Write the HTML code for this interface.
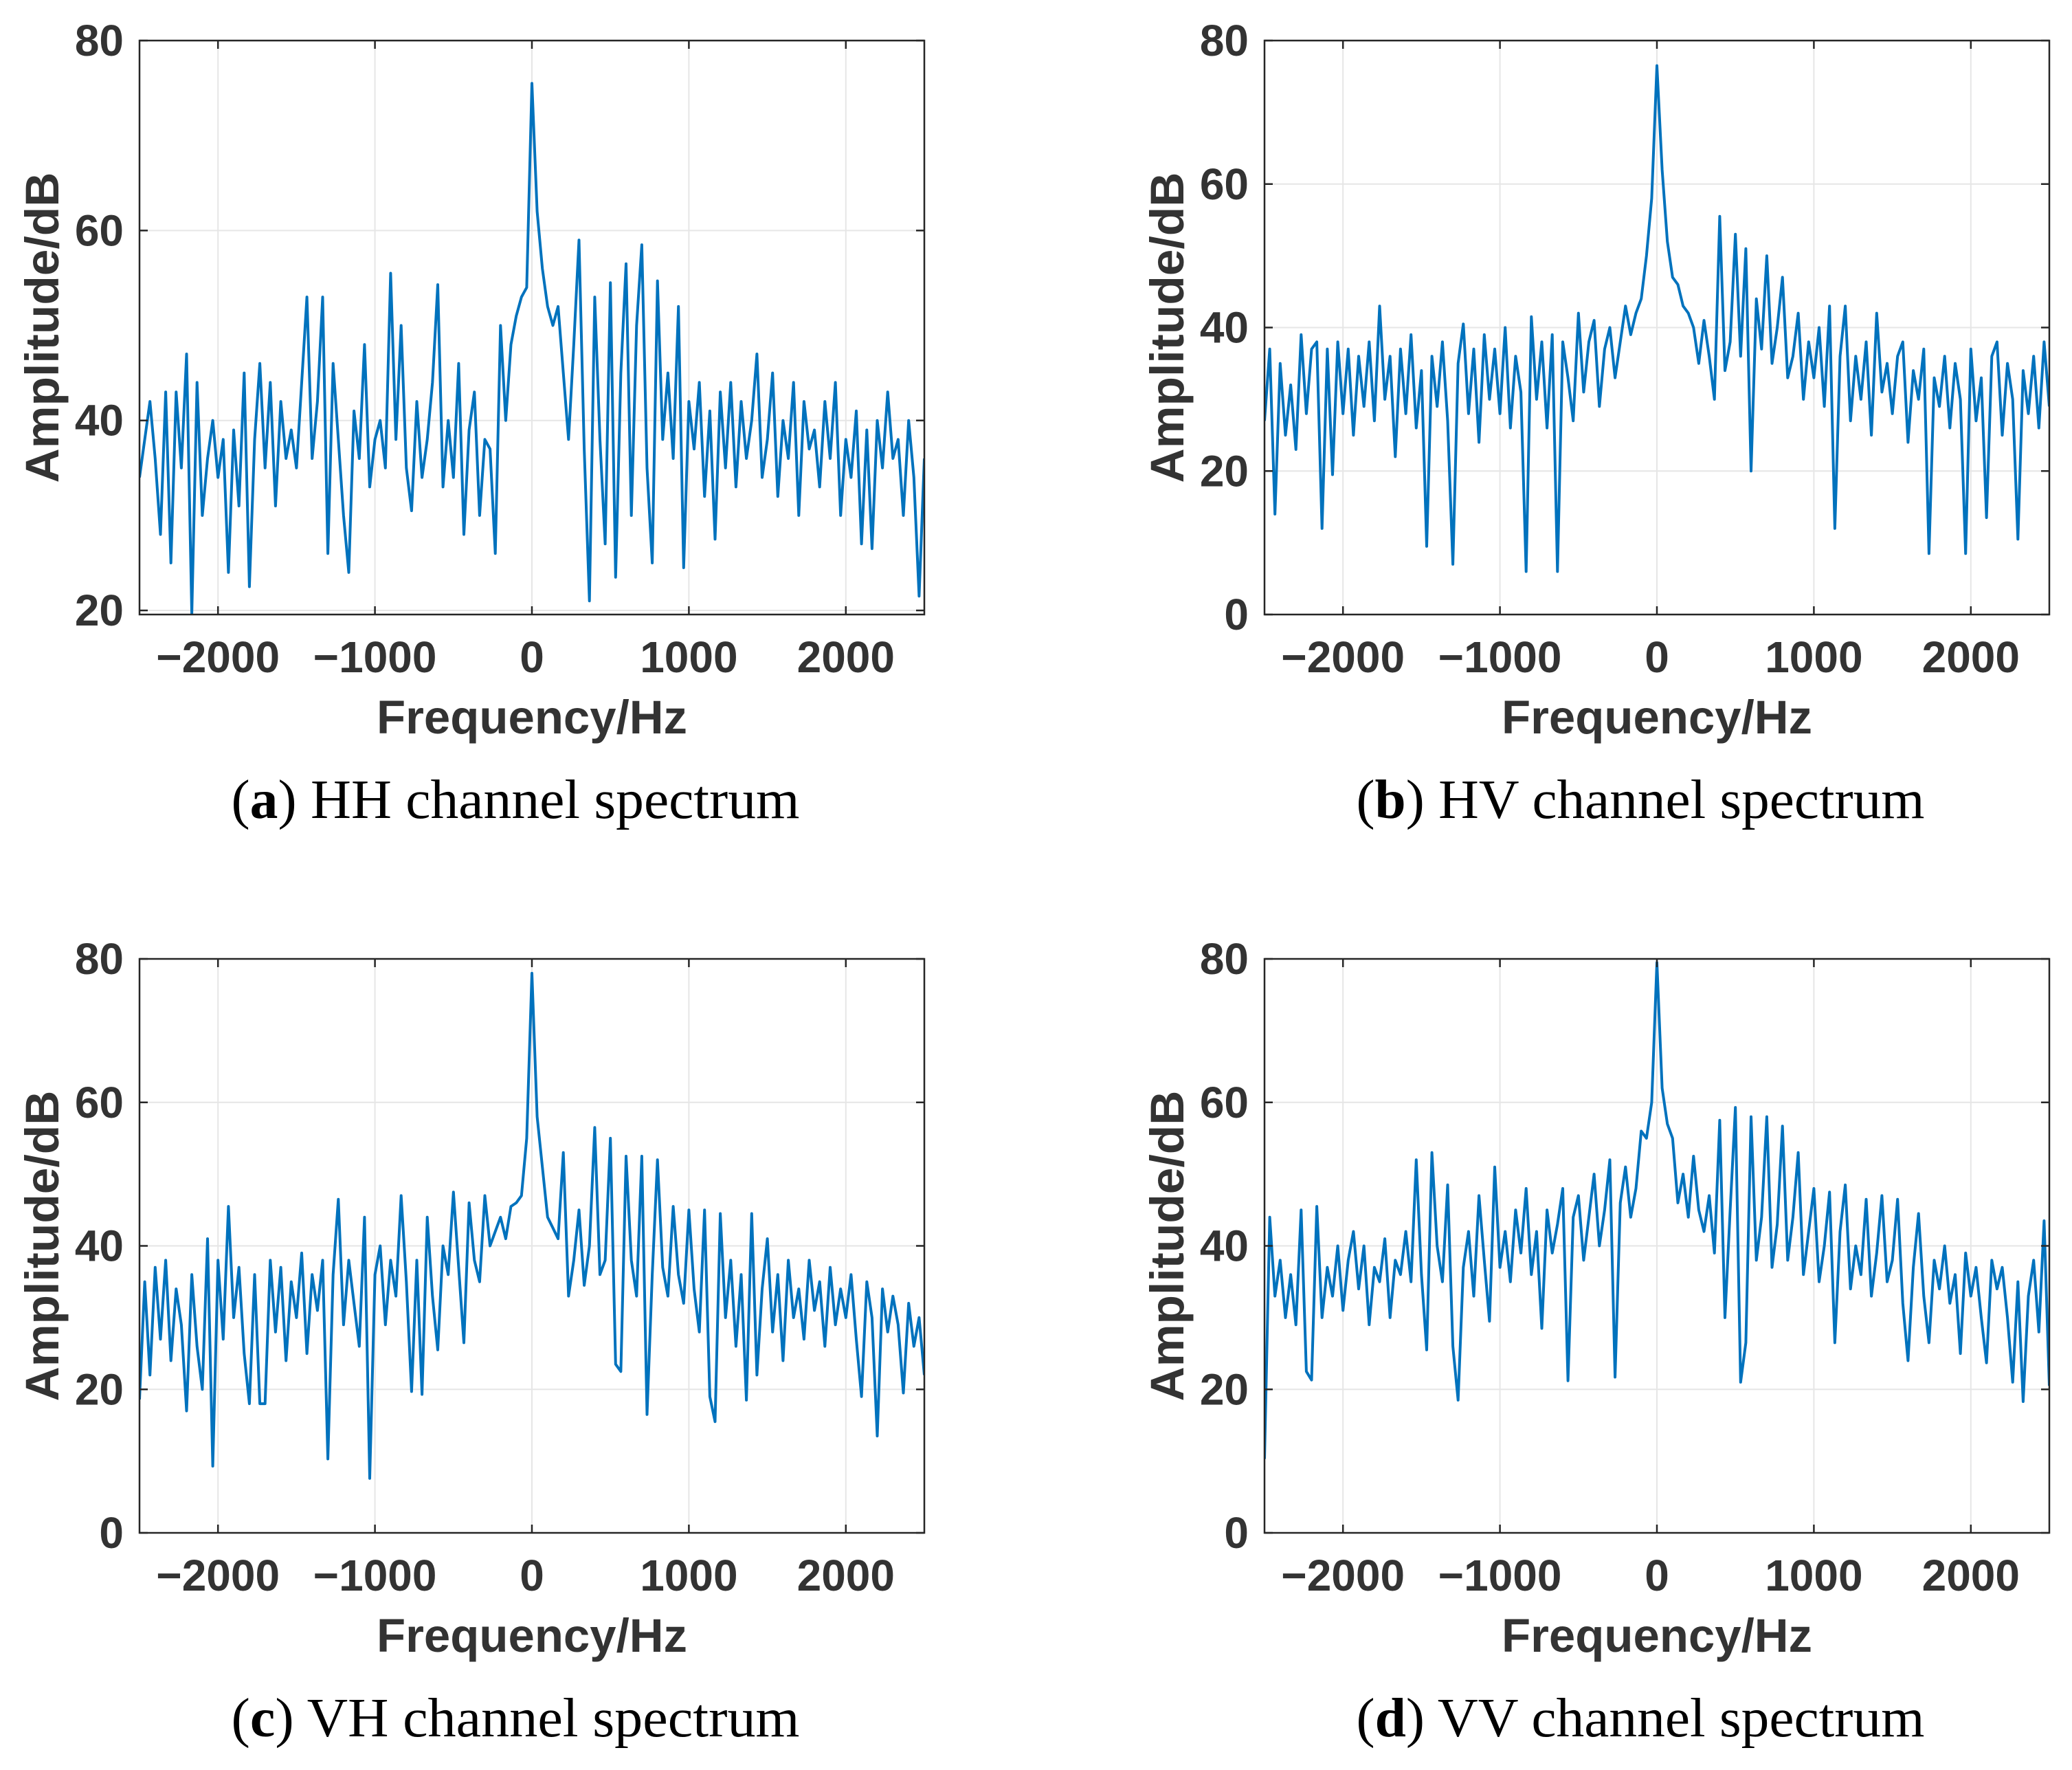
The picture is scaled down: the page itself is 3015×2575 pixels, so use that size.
<!DOCTYPE html>
<html>
<head>
<meta charset="utf-8">
<style>
  html,body{margin:0;padding:0;background:#fff;}
  svg{display:block;}
</style>
</head>
<body>
<svg id="fig" xmlns="http://www.w3.org/2000/svg" width="3015" height="2575" viewBox="0 0 3015 2575">
  <rect x="0" y="0" width="3015" height="2575" fill="#ffffff"/>
</svg>
<script>
// Shared frequency axis: 151 samples from -2500 Hz to 2500 Hz
const freqStart = -2500;
const freqEnd = 2500;
const sampleCount = 151;
const xTicks = [-2000, -1000, 0, 1000, 2000];
const xTickLabels = ["\u22122000", "\u22121000", "0", "1000", "2000"];

const hhValues = [34,38,42,36,28,43,25,43,35,47,
19.6,44,30,36,40,34,38,24,39,31,
45,22.5,38,46,35,44,31,42,36,39,
35,44,53,36,42,53,26,46,38,30,
24,41,36,48,33,38,40,35,55.5,38,
50,35,30.5,42,34,38,44,54.3,33,40,
34,46,28,39,43,30,38,37,26,50,
40,48,51,53,54,75.5,62,56,52,50,
52,45,38,48,59,37,21,53,38,27,
54.5,23.5,45,56.5,30,50,58.5,35,25,54.7,
38,45,36,52,24.5,42,37,44,32,41,
27.5,43,35,44,33,42,36,40,47,34,
38,45,32,40,36,44,30,42,37,39,
33,42,36,44,30,38,34,41,27,39,
26.5,40,35,43,36,38,30,40,34,21.5,36];

const hvValues = [27,37,14,35,25,32,23,39,28,37,
38,12,37,19.5,38,28,37,25,36,29,
38,27,43,30,36,22,37,28,39,26,
34,9.5,36,29,38,27,7,35,40.5,28,
37,24,39,30,37,28,40,26,36,31,
6,41.5,30,38,26,39,6,38,33,27,
42,31,38,41,29,37,40,33,38,43,
39,42,44,50,58,76.5,62,52,47,46,
43,42,40,35,41,36,30,55.5,34,38,
53,36,51,20,44,37,50,35,40,47,
33,36,42,30,38,33,40,29,43,12,
36,43,27,36,30,38,25,42,31,35,
28,36,38,24,34,30,37,8.5,33,29,
36,26,35,30,8.5,37,27,33,13.5,36,
38,25,35,30,10.5,34,28,36,26,38,29];

const vhValues = [18.6,35,22,37,27,38,24,34,29,17,
36,26,20,41,9.3,38,27,45.5,30,37,
25,18,36,18,18,38,28,37,24,35,
30,39,25,36,31,38,10.3,36,46.5,29,
38,32,26,44,7.6,36,40,29,38,33,
47,35,19.7,38,19.3,44,33,25.5,40,36,
47.5,37,26.5,46,38,35,47,40,42,44,
41,45.5,46,47,55,78,58,51,44,42.5,
41,53,33,38,45,34.5,40,56.5,36,38,
55,23.5,22.5,52.5,38,33,52.5,16.5,36,52,
37,33,45.5,36,32,45,34,28,45,19,
15.5,44.5,30,38,26,36,18.5,44.5,22,34,
41,28,36,24,38,30,34,27,38,31,
35,26,37,29,34,30,36,27,19,35,
30,13.5,34,28,33,29,19.5,32,26,30,22];

const vvValues = [10.3,44,33,38,30,36,29,45,22.5,21.3,
45.5,30,37,33,40,31,38,42,34,40,
29,37,35,41,30,38,36,42,35,52,
36,25.5,53,40,35,48.5,26,18.5,37,42,
33,47,38,29.5,51,37,42,35,45,39,
48,36,42,28.5,45,39,43,48,21.2,44,
47,38,44,50,40,45,52,21.7,46,51,
44,48,56,55,60,79.5,62,57,55,46,
50,44,52.5,45,42,47,39,57.5,30,45,
59.3,21,26.5,58,38,44,58,37,43,56.7,
38,44,53,36,42,48,35,40,47.5,26.5,
42,48.5,34,40,36,46.5,33,39,47,35,
38,46.5,32,24,37,44.5,33,26.5,38,34,
40,32,36,25,39,33,37,30,23.7,38,
34,37,30,21,35,18.3,33,38,28,43.5,20.5];

const yTicksA = [20, 40, 60, 80];
const yTicksB = [0, 20, 40, 60, 80];

const NS = "http://www.w3.org/2000/svg";
const svg = document.getElementById("fig");
const FONT = '"Liberation Sans", Arial, sans-serif';
const SERIF = '"Liberation Serif", "Times New Roman", serif';

function mk(tag, attrs, parent) {
  const e = document.createElementNS(NS, tag);
  for (const k in attrs) e.setAttribute(k, attrs[k]);
  (parent || svg).appendChild(e);
  return e;
}

function drawPanel(p) {
  const g = mk("g", {});
  
  
  const L = p.left, R = p.left + 1142, T = p.top, B = p.top + 835;
  const xs = f => L + (f - freqStart) / (freqEnd - freqStart) * (R - L);
  const ys = v => B - (v - p.ymin) / (p.ymax - p.ymin) * (B - T);

  const grid = mk("g", {stroke: "#e6e6e6", "stroke-width": 2}, g);
  
  
  xTicks.forEach(t => mk("line", {x1: xs(t), x2: xs(t), y1: T, y2: B}, grid));
  p.yTicks.forEach(t => mk("line", {x1: L, x2: R, y1: ys(t), y2: ys(t)}, grid));

  const pts = p.values.map((v, i) => {
    const f = freqStart + i * (freqEnd - freqStart) / (sampleCount - 1);
    return xs(f).toFixed(1) + "," + ys(v).toFixed(1);
  }).join(" ");
  const clipId = "clip-" + p.key;
  const cp = mk("clipPath", {id: clipId}, g);
  mk("rect", {x: L, y: T, width: R - L, height: B - T}, cp);
  const line = mk("polyline", {points: pts, fill: "none", stroke: "#0072BD", "stroke-width": 4, "stroke-linejoin": "round", "clip-path": "url(#" + clipId + ")"}, g);
  
  

  const box = mk("rect", {x: L, y: T, width: R - L, height: B - T, fill: "none", stroke: "#262626", "stroke-width": 2.5}, g);
  
  

  const tk = mk("g", {stroke: "#262626", "stroke-width": 2.5}, g);
  xTicks.forEach(t => {
    mk("line", {x1: xs(t), x2: xs(t), y1: B, y2: B - 12}, tk);
    mk("line", {x1: xs(t), x2: xs(t), y1: T, y2: T + 12}, tk);
  });
  p.yTicks.forEach(t => {
    mk("line", {x1: L, x2: L + 12, y1: ys(t), y2: ys(t)}, tk);
    mk("line", {x1: R, x2: R - 12, y1: ys(t), y2: ys(t)}, tk);
  });

  xTicks.forEach((t, i) => {
    const tx = mk("text", {x: xs(t), y: B + 84, "text-anchor": "middle", "font-family": FONT, "font-weight": "bold", "font-size": 64, fill: "#333333"}, g);
    tx.textContent = xTickLabels[i];
    
    
  });
  p.yTicks.forEach(t => {
    const ty = mk("text", {x: L - 23, y: ys(t) + 22, "text-anchor": "end", "font-family": FONT, "font-weight": "bold", "font-size": 64, fill: "#333333"}, g);
    ty.textContent = String(t);
    
    
  });

  const xl = mk("text", {x: (L + R) / 2, y: B + 173, "text-anchor": "middle", "font-family": FONT, "font-weight": "bold", "font-size": 69, fill: "#333333", textLength: 452, lengthAdjust: "spacingAndGlyphs"}, g);
  xl.textContent = "Frequency/Hz";
  
  
  const yc = (T + B) / 2, yx = L - 118;
  const yl = mk("text", {x: yx, y: yc, transform: "rotate(-90 " + yx + " " + yc + ")", "text-anchor": "middle", "font-family": FONT, "font-weight": "bold", "font-size": 69, fill: "#333333", textLength: 452, lengthAdjust: "spacingAndGlyphs"}, g);
  yl.textContent = "Amplitude/dB";
  
  

  const cap = mk("text", {x: (L + R) / 2 - 24, y: B + 296, "text-anchor": "middle", "font-family": SERIF, "font-size": 80, fill: "#000000", textLength: 827, lengthAdjust: "spacingAndGlyphs"}, g);
  
  
  const s1 = mk("tspan", {}, cap); s1.textContent = "(";
  const s2 = mk("tspan", {"font-weight": "bold"}, cap); s2.textContent = p.letter;
  const s3 = mk("tspan", {}, cap); s3.textContent = ") " + p.caption;
}

drawPanel({key: "hh", left: 203, top: 59, ymin: 19.57, ymax: 80, yTicks: yTicksA, values: hhValues, letter: "a", caption: "HH channel spectrum"});
drawPanel({key: "hv", left: 1840, top: 59, ymin: 0, ymax: 80, yTicks: yTicksB, values: hvValues, letter: "b", caption: "HV channel spectrum"});
drawPanel({key: "vh", left: 203, top: 1395, ymin: 0, ymax: 80, yTicks: yTicksB, values: vhValues, letter: "c", caption: "VH channel spectrum"});
drawPanel({key: "vv", left: 1840, top: 1395, ymin: 0, ymax: 80, yTicks: yTicksB, values: vvValues, letter: "d", caption: "VV channel spectrum"});
</script>
</body>
</html>
